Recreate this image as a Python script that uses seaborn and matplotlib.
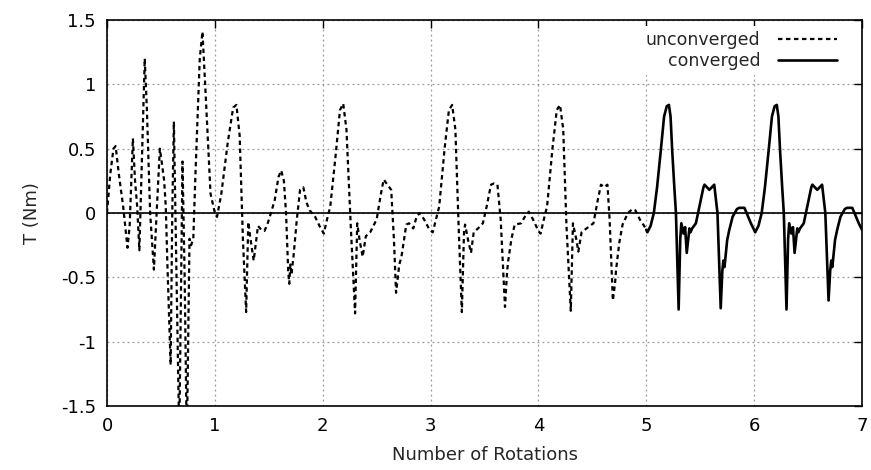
import numpy as np
import pandas as pd
import matplotlib
matplotlib.use("Agg")
import matplotlib.pyplot as plt
import seaborn as sns

# Torque over rotations: transient (unconverged) run, then the periodic converged run
unconv_rot = [
    0.00, 0.03, 0.06, 0.08, 0.11, 0.15, 0.19, 0.21, 0.24, 0.26, 0.28, 0.30, 0.32, 0.35,
    0.37, 0.40, 0.435, 0.46, 0.49, 0.51, 0.53, 0.545, 0.56, 0.59, 0.605, 0.62, 0.645,
    0.67, 0.70, 0.72, 0.74, 0.765, 0.78, 0.80, 0.82, 0.86, 0.885, 0.91, 0.96, 1.00,
    1.02, 1.06, 1.12, 1.17, 1.20, 1.23, 1.26, 1.29, 1.31, 1.33, 1.36, 1.40, 1.43, 1.46,
    1.49, 1.52, 1.555, 1.59, 1.615, 1.64, 1.66, 1.68, 1.69, 1.70, 1.71, 1.73, 1.76,
    1.79, 1.82, 1.85, 1.88, 1.93, 1.97, 2.01, 2.04, 2.07, 2.12, 2.16, 2.19, 2.22, 2.26,
    2.30, 2.32, 2.34, 2.37, 2.40, 2.44, 2.50, 2.54, 2.565, 2.60, 2.635, 2.66, 2.68,
    2.71, 2.73, 2.775, 2.80, 2.84, 2.87, 2.90, 2.94, 2.99, 3.02, 3.05, 3.08, 3.13,
    3.17, 3.20, 3.23, 3.26, 3.29, 3.31, 3.32, 3.35, 3.375, 3.40, 3.44, 3.485, 3.52,
    3.56, 3.59, 3.62, 3.65, 3.69, 3.71, 3.72, 3.75, 3.78, 3.84, 3.88, 3.91, 3.95,
    4.00, 4.02, 4.05, 4.08, 4.13, 4.17, 4.20, 4.23, 4.26, 4.30, 4.32, 4.35, 4.37,
    4.40, 4.43, 4.51, 4.55, 4.58, 4.61, 4.64, 4.66, 4.69, 4.71, 4.72, 4.75, 4.78,
    4.83, 4.87, 4.90, 4.94, 4.98, 5.00,
]
unconv_torque = [
    0.00, 0.30, 0.50, 0.52, 0.30, 0.05, -0.27, -0.10, 0.58, 0.25, 0.05, -0.29, 0.30, 1.20,
    0.80, 0.00, -0.44, 0.00, 0.50, 0.38, 0.25, 0.05, -0.40, -1.18, 0.00, 0.71, -0.50,
    -1.75, 0.40, -0.50, -1.80, -0.20, -0.25, -0.20, 0.30, 1.20, 1.41, 1.00, 0.15, 0.00,
    -0.03, 0.15, 0.55, 0.82, 0.84, 0.60, -0.20, -0.77, -0.07, -0.20, -0.37, -0.10, -0.13, -0.14,
    -0.08, 0.00, 0.10, 0.28, 0.33, 0.25, 0.00, -0.45, -0.55, -0.40, -0.48, -0.33, -0.05,
    0.18, 0.20, 0.08, 0.02, -0.03, -0.10, -0.16, -0.05, 0.05, 0.45, 0.80, 0.85, 0.65, -0.10,
    -0.78, -0.08, -0.20, -0.34, -0.18, -0.15, -0.05, 0.15, 0.26, 0.22, 0.18, -0.20, -0.62,
    -0.40, -0.34, -0.09, -0.08, -0.12, -0.03, 0.00, -0.05, -0.13, -0.15, -0.05, 0.05, 0.50,
    0.80, 0.84, 0.65, -0.10, -0.77, -0.15, -0.09, -0.22, -0.31, -0.15, -0.12, -0.08, 0.05,
    0.22, 0.23, 0.22, -0.05, -0.73, -0.45, -0.37, -0.20, -0.09, -0.08, -0.02, 0.01, -0.05,
    -0.14, -0.16, -0.05, 0.05, 0.50, 0.80, 0.84, 0.65, -0.10, -0.76, -0.08, -0.20, -0.30,
    -0.15, -0.13, -0.08, 0.10, 0.22, 0.20, 0.22, -0.05, -0.68, -0.55, -0.44, -0.23, -0.09,
    0.00, 0.03, 0.02, -0.05, -0.10, -0.13,
]

conv_rot = [
    5.00, 5.01, 5.04, 5.07, 5.10, 5.135, 5.165, 5.19, 5.21, 5.225, 5.24, 5.26, 5.275,
    5.30, 5.315, 5.325, 5.345, 5.36, 5.375, 5.40, 5.41, 5.425, 5.46, 5.50, 5.53, 5.54,
    5.585, 5.63, 5.66, 5.69, 5.705, 5.715, 5.725, 5.75, 5.77, 5.80, 5.84, 5.86, 5.91,
    5.94, 5.97, 6.01,
    6.04, 6.07, 6.10, 6.135, 6.165, 6.19, 6.21, 6.225, 6.24, 6.26, 6.275,
    6.30, 6.315, 6.325, 6.345, 6.36, 6.375, 6.40, 6.41, 6.425, 6.46, 6.50, 6.53, 6.54,
    6.585, 6.63, 6.66, 6.69, 6.705, 6.715, 6.725, 6.75, 6.77, 6.80, 6.84, 6.86, 6.91,
    6.94, 6.97, 7.00,
]
conv_torque = [
    -0.13, -0.15, -0.10, 0.00, 0.20, 0.49, 0.75, 0.83, 0.84, 0.75, 0.49, 0.20, 0.00,
    -0.75, -0.20, -0.08, -0.16, -0.11, -0.31, -0.12, -0.15, -0.12, -0.08, 0.08, 0.20, 0.22,
    0.18, 0.22, 0.00, -0.74, -0.45, -0.37, -0.42, -0.21, -0.13, -0.03, 0.03, 0.04, 0.04,
    -0.02, -0.08, -0.15,
    -0.10, 0.00, 0.20, 0.49, 0.75, 0.83, 0.84, 0.75, 0.49, 0.20, 0.00,
    -0.75, -0.20, -0.08, -0.16, -0.11, -0.31, -0.12, -0.15, -0.12, -0.08, 0.08, 0.20, 0.22,
    0.18, 0.22, 0.00, -0.68, -0.45, -0.37, -0.42, -0.21, -0.13, -0.03, 0.03, 0.04, 0.04,
    -0.02, -0.08, -0.13,
]

x_ticks = [0, 1, 2, 3, 4, 5, 6, 7]
y_ticks = [-1.5, -1, -0.5, 0, 0.5, 1, 1.5]
y_tick_labels = ["-1.5", "-1", "-0.5", "0", "0.5", "1", "1.5"]

unconv = pd.DataFrame({"rot": unconv_rot, "T": unconv_torque})
conv = pd.DataFrame({"rot": conv_rot, "T": conv_torque})

sns.set_theme(style="white")
plt.rcParams["font.family"] = ["DejaVu Sans"]

fig = plt.figure(figsize=(8.71, 4.70), dpi=100)
ax = fig.add_axes([107 / 871, 1 - 406 / 470, 755 / 871, 386 / 470])

ax.axhline(0, color="black", lw=1.2, zorder=1)

sns.lineplot(data=unconv, x="rot", y="T", ax=ax, color="black", lw=1.6,
             estimator=None, sort=False, label="unconverged", zorder=3)
ax.lines[-1].set_dashes((2.0, 1.6))
sns.lineplot(data=conv, x="rot", y="T", ax=ax, color="black", lw=1.9,
             estimator=None, sort=False, label="converged", zorder=3)

ax.set_xlim(0, 7)
ax.set_ylim(-1.5, 1.5)
ax.set_xticks(x_ticks)
ax.set_xticklabels([str(v) for v in x_ticks])
ax.set_yticks(y_ticks)
ax.set_yticklabels(y_tick_labels)
ax.grid(True, color="#999999", linestyle=(0, (1.5, 2.5)), lw=0.9)
ax.set_axisbelow(True)

for s in ax.spines.values():
    s.set_color("black")
    s.set_linewidth(1.2)
ax.tick_params(direction="in", length=6, width=1.0, top=True, right=True,
               labelsize=13, colors="black", pad=8)

ax.set_xlabel("Number of Rotations", fontsize=13, labelpad=8)
ax.set_ylabel("T (Nm)", fontsize=13, labelpad=14)

leg = ax.legend(loc="upper right", bbox_to_anchor=(1 - 20 / 755, 1 - 6 / 386),
                markerfirst=False, frameon=True, fontsize=12.5, handlelength=3.4,
                handletextpad=1.0, labelspacing=0.15, borderpad=0.3, borderaxespad=0)
leg.get_frame().set_facecolor("white")
leg.get_frame().set_edgecolor("none")
leg.get_frame().set_alpha(1)
leg.get_lines()[0].set_dashes((2.0, 1.6))

fig.savefig("out.png", dpi=100)
